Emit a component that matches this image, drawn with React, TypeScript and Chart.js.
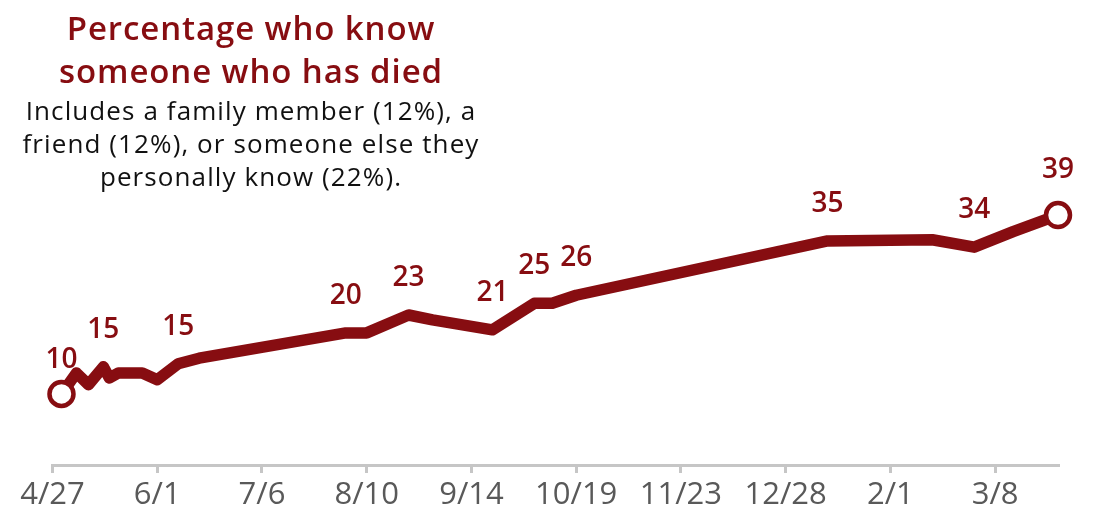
import React, { useEffect, useRef } from "react";
import { Chart, registerables } from "chart.js";

Chart.register(...registerables);

// Days since 4/27 for each survey wave
const surveyDays = [3, 8, 12, 17, 19, 22, 30, 35, 42, 49, 98, 105, 119, 127, 147, 161, 167, 175, 259, 294, 308, 321, 336];
// Percentage who know someone who has died
const knowDiedPct = [10, 13.4, 11.5, 14.4, 12.6, 13.4, 13.4, 12.3, 14.9, 15.8, 19.9, 19.9, 22.8, 22.0, 20.4, 24.7, 24.7, 26.0, 34.8, 35.0, 33.8, 36.3, 39];
// Value labels shown above selected points
const pointLabels = ["10", "", "", "15", "", "", "", "", "15", "", "20", "", "23", "", "21", "25", "", "26", "35", "", "34", "", "39"];

const tickDays = [0, 35, 70, 105, 140, 175, 210, 245, 280, 315];
const tickLabels = ["4/27", "6/1", "7/6", "8/10", "9/14", "10/19", "11/23", "12/28", "2/1", "3/8"];

const RED = "#870d11";
const FONT = "'Open Sans', 'Noto Sans', sans-serif";

const labelPlugin = {
  id: "pointLabels",
  afterDatasetsDraw(chart: any) {
    const meta = chart.getDatasetMeta(0);
    const ctx = chart.ctx;
    const last = meta.data.length - 1;
    ctx.save();
    ctx.fillStyle = RED;
    ctx.font = `600 28px ${FONT}`;
    ctx.textAlign = "center";
    ctx.textBaseline = "middle";
    meta.data.forEach((pt: any, i: number) => {
      const txt = pointLabels[i];
      if (!txt) return;
      const off = i === 0 ? 34 : i === last ? 45 : 37;
      ctx.fillText(txt, pt.x, pt.y - off);
    });
    ctx.restore();
  },
};

export default function App() {
  const ref = useRef<HTMLCanvasElement | null>(null);

  useEffect(() => {
    if (!ref.current) return;
    const n = surveyDays.length;
    const chart = new Chart(ref.current, {
      type: "line",
      data: {
        datasets: [
          {
            data: surveyDays.map((d, i) => ({ x: d, y: knowDiedPct[i] })),
            borderColor: RED,
            borderWidth: 11.5,
            borderJoinStyle: "round",
            borderCapStyle: "round",
            tension: 0,
            clip: false as any,
            pointRadius: (c: any) => (c.dataIndex === 0 || c.dataIndex === n - 1 ? 12 : 0),
            pointBorderWidth: 4.5,
            pointBackgroundColor: "#ffffff",
            pointBorderColor: RED,
            pointHoverRadius: 0,
          } as any,
        ],
      },
      options: {
        animation: false,
        responsive: false,
        maintainAspectRatio: false,
        layout: { autoPadding: false, padding: { left: 52.5, right: 41, top: 0, bottom: 0 } },
        plugins: { legend: { display: false }, tooltip: { enabled: false }, title: { display: false } },
        scales: {
          x: {
            type: "linear",
            min: 0,
            max: 336,
            afterBuildTicks: (s: any) => {
              s.ticks = tickDays.map((v) => ({ value: v }));
            },
            afterFit: (s: any) => {
              s.height = 57;
            },
            ticks: {
              autoSkip: false,
              maxRotation: 0,
              padding: 4,
              color: "#595959",
              font: { family: FONT, size: 31 },
              callback: (_v: any, idx: number) => tickLabels[idx],
            },
            grid: {
              drawOnChartArea: false,
              drawTicks: true,
              tickLength: 8,
              color: "#c6c6c6",
              lineWidth: 3,
            },
            border: { display: true, color: "#c6c6c6", width: 3 },
          },
          y: {
            display: false,
            min: -1.51,
            max: 73.85,
          },
        },
      },
      plugins: [labelPlugin],
    });
    return () => chart.destroy();
  }, []);

  return (
    <div style={{ position: "absolute", left: 0, top: 0, width: 1099, height: 522, background: "#fff" }}>
      <canvas ref={ref} width={1099} height={522} style={{ position: "absolute", left: 0, top: 0 }} />
      <div
        style={{
          position: "absolute",
          left: 0,
          top: 6,
          width: 502,
          textAlign: "center",
          fontFamily: FONT,
          fontSize: 33,
          fontWeight: 600,
          letterSpacing: "0.9px",
          lineHeight: "43px",
          color: RED,
        }}
      >
        Percentage who know
        <br />
        someone who has died
      </div>
      <div
        style={{
          position: "absolute",
          left: 0,
          top: 94,
          width: 502,
          textAlign: "center",
          fontFamily: FONT,
          fontSize: 26,
          letterSpacing: "1.1px",
          lineHeight: "33px",
          color: "#111",
        }}
      >
        Includes a family member (12%), a
        <br />
        friend (12%), or someone else they
        <br />
        personally know (22%).
      </div>
    </div>
  );
}
